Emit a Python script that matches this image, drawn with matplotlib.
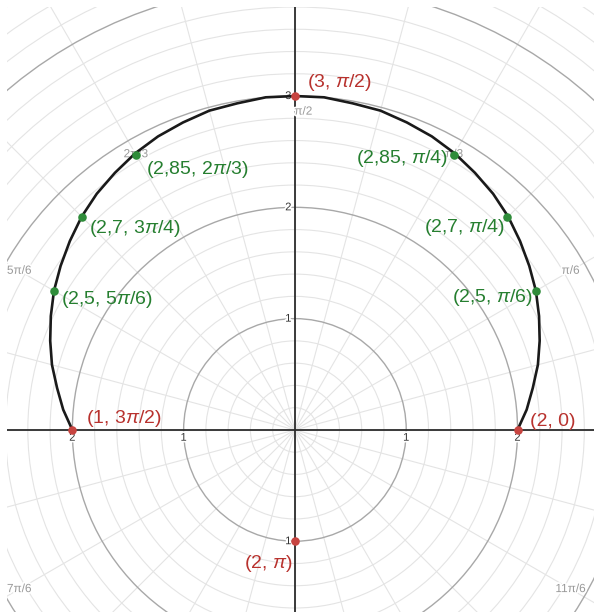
import matplotlib
matplotlib.use("Agg")
import matplotlib.pyplot as plt
import matplotlib.patheffects as pe
from matplotlib.patches import Circle
import numpy as np

plt.rcParams["font.family"] = ["Liberation Sans", "DejaVu Sans"]
plt.rcParams["mathtext.fontset"] = "custom"
plt.rcParams["mathtext.rm"] = "Liberation Sans"
plt.rcParams["mathtext.it"] = "Liberation Sans:italic"

# curve r(theta), every 5 degrees
CURVE_DEG = list(range(0, 181, 5))
CURVE_R = [2.00, 2.09, 2.17, 2.26, 2.34, 2.42, 2.50, 2.57, 2.64, 2.71,
           2.77, 2.82, 2.87, 2.91, 2.94, 2.97, 2.98, 3.00, 3.00,
           3.00, 2.98, 2.97, 2.94, 2.91, 2.87, 2.82, 2.77, 2.71, 2.64,
           2.57, 2.50, 2.42, 2.34, 2.26, 2.17, 2.09, 2.00]

# labelled points (polar), labels as written on the chart
RED_R = [2, 3, 2, 1]
RED_T = [0, np.pi / 2, np.pi, 3 * np.pi / 2]
RED_LABELS = ["(2, 0)", "(3, $\\pi$/2)", "(1, 3$\\pi$/2)", "(2, $\\pi$)"]

GREEN_R = [2.5, 2.7, 2.85, 2.85, 2.7, 2.5]
GREEN_T = [np.pi / 6, np.pi / 4, np.pi / 3, 2 * np.pi / 3, 3 * np.pi / 4, 5 * np.pi / 6]
GREEN_LABELS = ["(2,5, $\\pi$/6)", "(2,7, $\\pi$/4)", "(2,85, $\\pi$/4)",
                "(2,85, 2$\\pi$/3)", "(2,7, 3$\\pi$/4)", "(2,5, 5$\\pi$/6)"]

ANGLE_LABELS = ["0", "π/6", "π/3", "π/2", "2π/3", "5π/6", "π",
                "7π/6", "4π/3", "3π/2", "5π/3", "11π/6"]
X_TICKS = [-2, -1, 1, 2]
Y_TICKS = [-1, 1, 2, 3]

RED = "#c74440"
GREEN = "#2f8c3a"

fig = plt.figure(figsize=(5.94, 6.12), dpi=100)
ax = fig.add_axes([7 / 594, 0, 587 / 594, 605 / 612])
XLIM = (-2.587, 2.687)
YLIM = (-1.636, 3.800)
ax.set_xlim(*XLIM)
ax.set_ylim(*YLIM)
ax.axis("off")

# polar grid
for k in range(1, 31):
    r = k * 0.2
    major = k % 5 == 0
    ax.add_patch(Circle((0, 0), r, fill=False,
                        edgecolor="#a8a8a8" if major else "#e4e4e4",
                        lw=1.0 if major else 0.8, zorder=1 if major else 0.5))
for a in np.arange(0, 360, 15):
    t = np.radians(a)
    ax.plot([0, 7 * np.cos(t)], [0, 7 * np.sin(t)], color="#e4e4e4", lw=0.8, zorder=0.5)

# axes
ax.axhline(0, color="#2b2b2b", lw=1.3, zorder=2)
ax.axvline(0, color="#2b2b2b", lw=1.3, zorder=2)

halo = [pe.withStroke(linewidth=2.5, foreground="white")]
for v in X_TICKS:
    ax.annotate(str(abs(v)), (v, 0), xytext=(0, -2), textcoords="offset points",
                ha="center", va="top", fontsize=8, color="#333333",
                path_effects=halo, zorder=3)
for v in Y_TICKS:
    ax.annotate(str(abs(v)), (0, v), xytext=(-2.5, 0), textcoords="offset points",
                ha="right", va="center", fontsize=8, color="#333333",
                path_effects=halo, zorder=3)

# angle labels (only those that fall inside the view)
for i, lab in enumerate(ANGLE_LABELS):
    t = i * np.pi / 6
    lx, ly = 2.86 * np.cos(t), 2.86 * np.sin(t)
    if not (XLIM[0] < lx < XLIM[1] and YLIM[0] < ly < YLIM[1]):
        continue
    dx = 6 if lab == "π/2" else 0
    ax.annotate(lab, (lx, ly), xytext=(dx, 0),
                textcoords="offset points", ha="center", va="center",
                fontsize=8.5, color="#999999", path_effects=halo, zorder=3)

# curve
ct = np.radians(CURVE_DEG)
cr = np.array(CURVE_R)
ax.plot(cr * np.cos(ct), cr * np.sin(ct), color="#1a1a1a", lw=1.9, zorder=4,
        solid_capstyle="round", solid_joinstyle="round")

# points
rx = np.array(RED_R) * np.cos(RED_T)
ry = np.array(RED_R) * np.sin(RED_T)
ax.scatter(rx, ry, s=38, color=RED, zorder=5, linewidths=0)
gx = np.array(GREEN_R) * np.cos(GREEN_T)
gy = np.array(GREEN_R) * np.sin(GREEN_T)
ax.scatter(gx, gy, s=38, color=GREEN, zorder=5, linewidths=0)

red_off = [(9, 6, "left"), (9, 10, "left"), (10, 8, "left"), (-2, -16, "right")]
for x, y, lab, (ox, oy, ha) in zip(rx, ry, RED_LABELS, red_off):
    ax.annotate(lab, (x, y), xytext=(ox, oy), textcoords="offset points",
                ha=ha, va="center", fontsize=14, color="#b8322e", zorder=6)

green_off = [(-2, -5, "right"), (-2, -7, "right"), (-4, -2, "right"),
             (7, -10, "left"), (5, -8, "left"), (5, -6, "left")]
for x, y, lab, (ox, oy, ha) in zip(gx, gy, GREEN_LABELS, green_off):
    ax.annotate(lab, (x, y), xytext=(ox, oy), textcoords="offset points",
                ha=ha, va="center", fontsize=14, color="#267f30", zorder=6)

fig.savefig("out.png", dpi=100, facecolor="white")
